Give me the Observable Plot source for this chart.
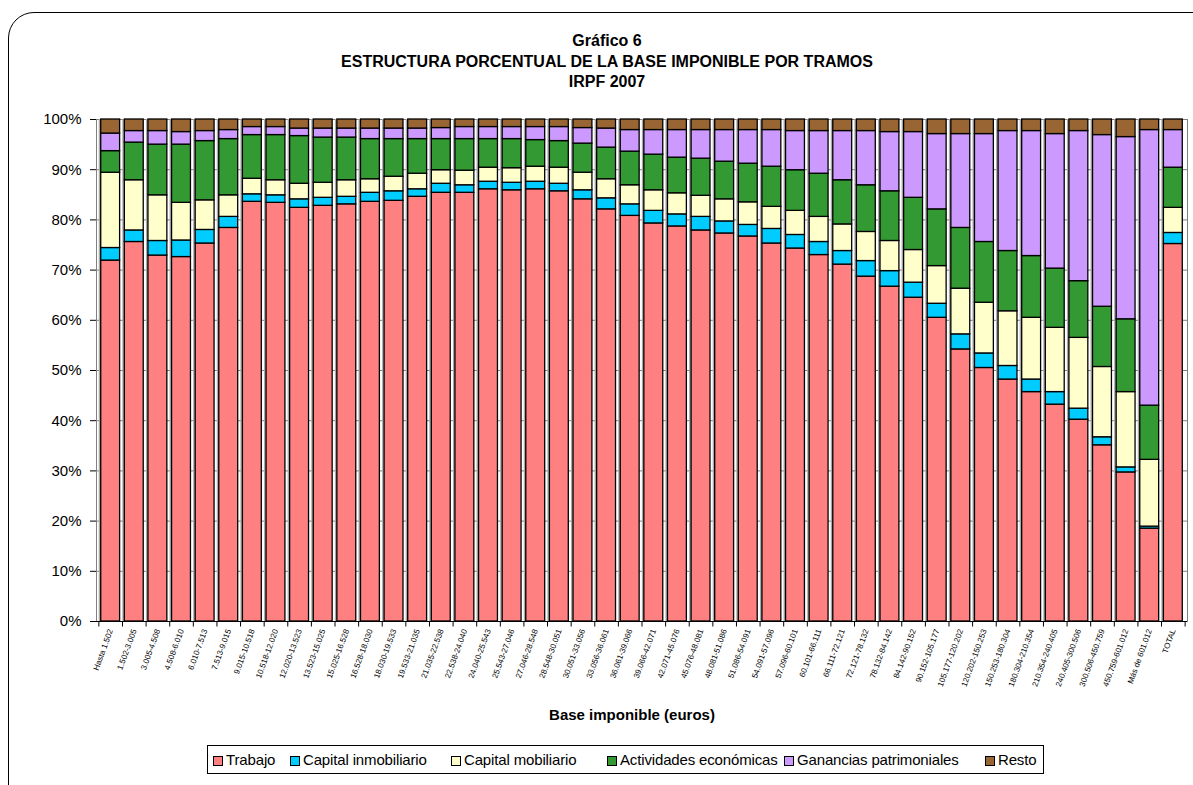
<!DOCTYPE html>
<html><head><meta charset="utf-8">
<script src="https://cdn.jsdelivr.net/npm/d3@7"></script>
<script src="https://cdn.jsdelivr.net/npm/@observablehq/plot@0.6"></script>
<style>
body{margin:0;overflow:hidden;background:#fff;font-family:"Liberation Sans",Arial,sans-serif;}
#page{position:relative;width:1193px;height:785px;overflow:hidden;}
#border{position:absolute;left:8px;top:12px;width:1260px;height:840px;border:1px solid #000;border-radius:26px;}
#title{position:absolute;left:0;top:31px;width:1214px;text-align:center;font-weight:bold;font-size:16px;line-height:20.5px;}
#chart{position:absolute;left:0;top:100px;width:1193px;}
#xtitle{position:absolute;left:0;width:1264px;top:706px;text-align:center;font-weight:bold;font-size:15px;}
#legend{position:absolute;left:207px;top:745px;width:835px;height:27px;border:1px solid #000;}
.item{position:absolute;top:0;height:27px;line-height:27px;font-size:15px;letter-spacing:-0.15px;white-space:nowrap;}
.sw{display:inline-block;width:8px;height:8px;border:1px solid #000;margin-right:3px;vertical-align:-1px;}
</style></head>
<body>
<div id="page">
  <div id="border"></div>
  <div id="title">Gráfico 6<br>ESTRUCTURA PORCENTUAL DE LA BASE IMPONIBLE POR TRAMOS<br>IRPF 2007</div>
  <div id="chart"></div>
  <div id="xtitle">Base imponible (euros)</div>
  <div id="legend"></div>
</div>
<script>
const categorias = [
  "Hasta 1.502","1.502-3.005","3.005-4.508","4.508-6.010","6.010-7.513","7.513-9.015",
  "9.015-10.518","10.518-12.020","12.020-13.523","13.523-15.025","15.025-16.528","16.528-18.030",
  "18.030-19.533","19.533-21.035","21.035-22.538","22.538-24.040","24.040-25.543","25.543-27.046",
  "27.046-28.548","28.548-30.051","30.051-33.056","33.056-36.061","36.061-39.066","39.066-42.071",
  "42.071-45.076","45.076-48.081","48.081-51.086","51.086-54.091","54.091-57.096","57.096-60.101",
  "60.101-66.111","66.111-72.121","72.121-78.132","78.132-84.142","84.142-90.152","90.152-105.177",
  "105.177-120.202","120.202-150.253","150.253-180.304","180.304-210.354","210.354-240.405",
  "240.405-300.506","300.506-450.759","450.759-601.012","Más de 601.012","TOTAL"
];
const series = ["Trabajo","Capital inmobiliario","Capital mobiliario","Actividades económicas","Ganancias patrimoniales","Resto"];
const colores = ["#FF8080","#00CCFF","#FFFFCC","#339933","#CC99FF","#996633"];

const trabajo = [71.9,75.6,72.9,72.6,75.3,78.4,83.6,83.4,82.4,82.8,83.1,83.6,83.8,84.6,85.4,85.4,86.1,85.9,86.1,85.7,84.1,82.1,80.8,79.3,78.7,77.9,77.3,76.7,75.3,74.3,73.0,71.1,68.7,66.7,64.5,60.5,54.2,50.5,48.2,45.7,43.2,40.2,35.1,29.7,18.5,75.2];
const capInmobiliario = [2.5,2.3,2.9,3.3,2.7,2.2,1.5,1.5,1.7,1.6,1.5,1.8,1.9,1.5,1.8,1.5,1.5,1.5,1.5,1.5,1.8,2.2,2.3,2.5,2.4,2.7,2.4,2.3,2.9,2.7,2.6,2.7,3.1,3.1,3.0,2.8,3.0,2.9,2.7,2.5,2.5,2.2,1.6,1.0,0.4,2.2];
const capMobiliario = [15.0,10.0,9.1,7.5,5.9,4.3,3.1,3.0,3.1,3.0,3.3,2.7,2.9,3.1,2.7,2.9,2.8,2.9,3.0,3.2,3.5,3.8,3.8,4.1,4.2,4.2,4.4,4.5,4.4,4.8,5.0,5.3,5.8,6.0,6.5,7.5,9.1,10.1,10.9,12.3,12.8,14.1,14.0,15.0,13.3,5.0];
const actividades = [4.3,7.5,10.1,11.6,11.8,11.2,8.7,9.0,9.5,9.0,8.5,8.0,7.5,6.9,6.2,6.3,5.7,5.8,5.3,5.3,5.8,6.3,6.7,7.1,7.1,7.4,7.5,7.7,8.0,8.1,8.6,8.8,9.3,9.9,10.4,11.3,12.1,12.1,12.0,12.3,11.8,11.3,12.0,14.5,10.8,8.0];
const ganancias = [3.5,2.3,2.7,2.5,2.0,1.8,1.6,1.6,1.5,1.8,1.8,2.1,2.1,2.1,2.2,2.4,2.4,2.4,2.6,2.8,3.1,3.8,4.3,4.9,5.5,5.7,6.3,6.7,7.3,7.8,8.5,9.8,10.8,11.8,13.1,15.0,18.7,21.5,23.9,24.9,26.8,29.9,34.2,36.3,54.9,7.5];
const resto = [2.8,2.3,2.3,2.5,2.3,2.1,1.5,1.5,1.8,1.8,1.8,1.8,1.8,1.8,1.7,1.5,1.5,1.5,1.5,1.5,1.7,1.8,2.1,2.1,2.1,2.1,2.1,2.1,2.1,2.3,2.3,2.3,2.3,2.5,2.5,2.9,2.9,2.9,2.3,2.3,2.9,2.3,3.1,3.5,2.1,2.1];
const yTicks = [0,10,20,30,40,50,60,70,80,90,100];

const valores = [trabajo, capInmobiliario, capMobiliario, actividades, ganancias, resto];
const datos = [];
categorias.forEach((c, i) => series.forEach((s, k) => datos.push({tramo: c, serie: s, valor: valores[k][i]})));
const sombras = categorias.map((c, i) => ({tramo: c, total: valores.reduce((a, v) => a + v[i], 0)}));

const plotW = 1193, mL = 96, mR = 6;
const step = (plotW - mL - mR) / (categorias.length + 0.2);

const chart = Plot.plot({
  width: plotW, height: 610,
  marginLeft: mL, marginRight: mR, marginTop: 19, marginBottom: 89,
  style: {fontFamily: "Liberation Sans, Arial, sans-serif", background: "transparent", overflow: "visible", color: "#000"},
  x: {domain: categorias, padding: 0.2, round: false, label: null},
  y: {domain: [0, 100], label: null},
  color: {domain: series, range: colores},
  marks: [
    Plot.gridY(yTicks, {stroke: "#808080", strokeOpacity: 1, strokeWidth: 1}),
    Plot.frame({stroke: "#808080"}),
    Plot.barY(sombras, {x: "tramo", y: "total", fill: "#a8a8a8", dx: -2}),
    Plot.barY(datos, {x: "tramo", y: "valor", fill: "serie", order: series, stroke: "#000", strokeWidth: 1.3}),
    Plot.ruleY([0], {stroke: "#000", strokeWidth: 1}),
    Plot.ruleX(categorias, {x: d => d, y1: 0, y2: -1.1, dx: -step / 2, stroke: "#000"}),
    Plot.ruleX([categorias[categorias.length - 1]], {x: d => d, y1: 0, y2: -1.1, dx: step / 2, stroke: "#000"}),
    Plot.axisY(yTicks, {tickFormat: d => d + "%", tickSize: 6, tickPadding: 9, fontSize: 15, label: null}),
    Plot.axisX({tickSize: 0, tickPadding: 8, tickRotate: -70, fontSize: 8, label: null, fill: "#000"})
  ]
});
document.getElementById("chart").appendChild(chart);

const legendLeft = [5, 82, 243, 399, 576, 777];
const leg = document.getElementById("legend");
series.forEach((s, k) => {
  const it = document.createElement("div");
  it.className = "item";
  it.style.left = legendLeft[k] + "px";
  it.innerHTML = `<span class="sw" style="background:${colores[k]}"></span>${s}`;
  leg.appendChild(it);
});
</script>
</body></html>
